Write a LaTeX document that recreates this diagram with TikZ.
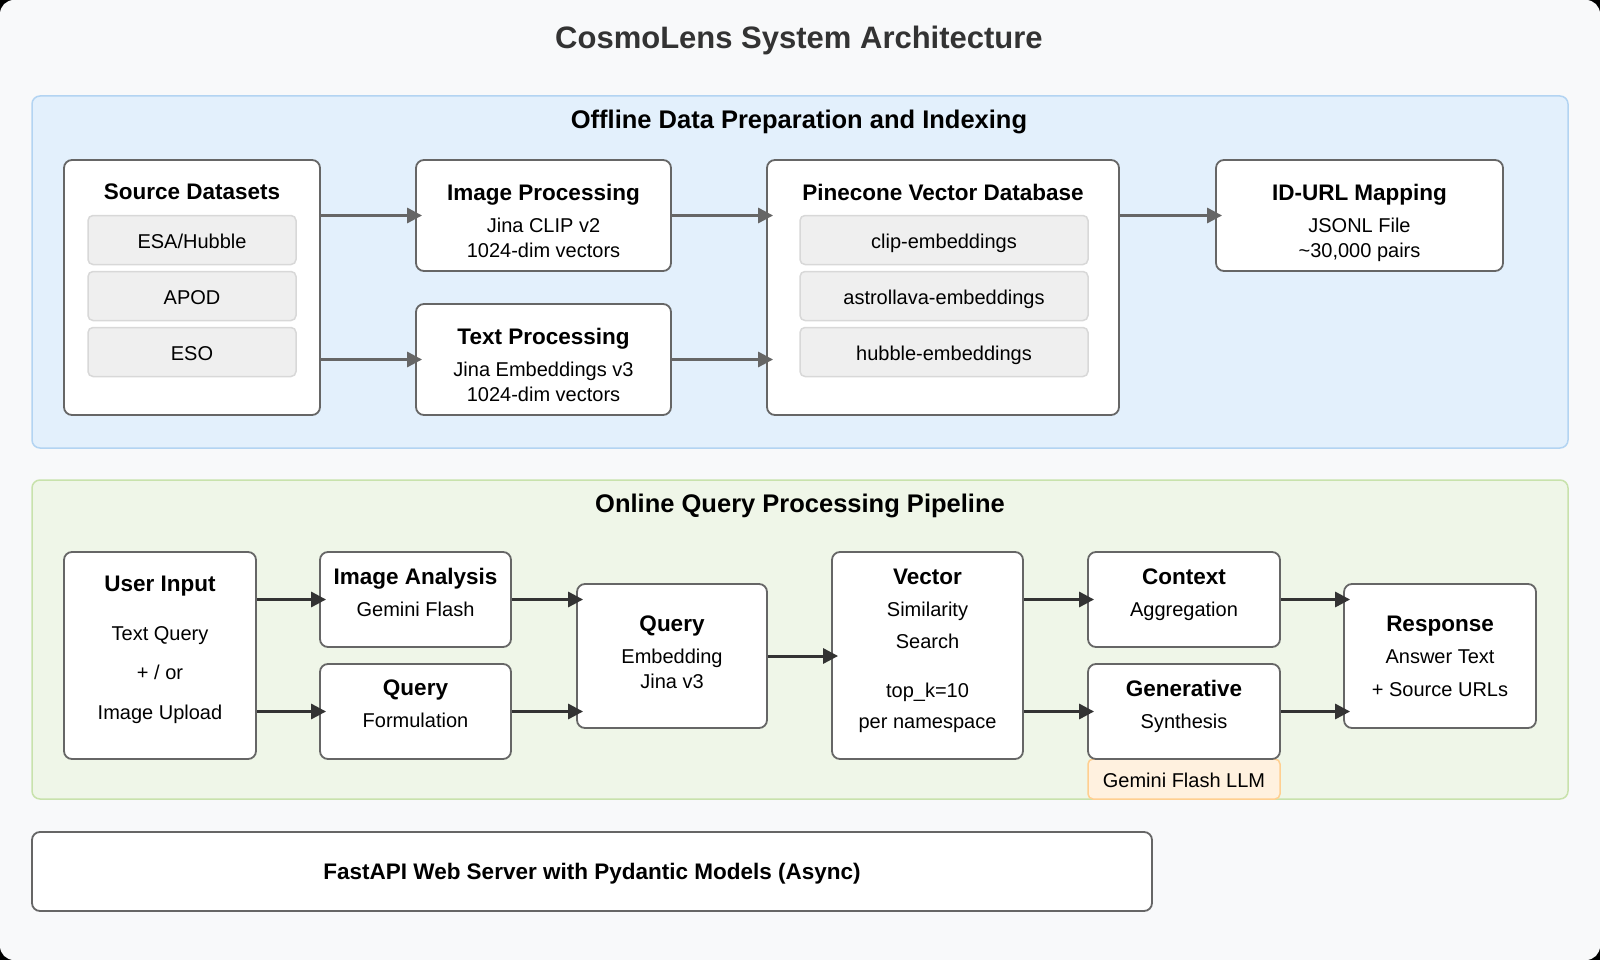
\documentclass[tikz,border=0pt]{standalone}
\usepackage{fontspec}
\setmainfont{Liberation Sans}
\usetikzlibrary{arrows.meta}
\definecolor{pagebg}{HTML}{F8F9FA}
\definecolor{titlegray}{HTML}{333333}
\definecolor{offfill}{HTML}{E3F0FC}
\definecolor{offline}{HTML}{B3D4F2}
\definecolor{onfill}{HTML}{EFF6E8}
\definecolor{online}{HTML}{C8E2AC}
\definecolor{boxline}{HTML}{666666}
\definecolor{chipfill}{HTML}{EFEFEF}
\definecolor{chipline}{HTML}{D8D8D8}
\definecolor{llmfill}{HTML}{FFF1DF}
\definecolor{llmline}{HTML}{FFCF90}
\definecolor{arrowgray}{HTML}{666666}
\definecolor{arrowdark}{HTML}{333333}
\newcommand{\bodyfont}{\fontsize{20}{25}\selectfont}
\newcommand{\boxttlfont}{\bfseries\fontsize{22.5}{27}\selectfont}
\newcommand{\boxttl}[1]{{\boxttlfont #1}}
\tikzset{
  panel/.style={line width=1.5pt, rounded corners=8pt},
  box/.style 2 args={draw=boxline, line width=1.8pt, fill=white, rounded corners=8pt,
    inner sep=0pt, minimum width=#1, minimum height=#2},
  chip/.style 2 args={draw=chipline, line width=1.5pt, fill=chipfill, rounded corners=5pt,
    inner sep=0pt, minimum width=#1, minimum height=#2, font=\bodyfont,
    text height=16pt, text depth=0pt},
  txt/.style={inner sep=0pt, anchor=north, align=center, font=\bodyfont},
  arr/.style={draw=arrowgray, line width=3pt, shorten >=-7pt, -{Triangle[length=15pt,width=15pt]}},
  arrd/.style={arr, draw=arrowdark},
}
\begin{document}
\begin{tikzpicture}[x=1pt,y=-1pt]
\useasboundingbox (0,0) rectangle (1600,960);
\fill[black] (0,0) rectangle (1600,960);
\fill[pagebg, rounded corners=14pt] (0,0) rectangle (1600,960);
\node[txt, font=\bfseries\fontsize{31}{36}\selectfont, text=titlegray] (title) at (799,26) {CosmoLens System Architecture};

% offline part
\draw[panel, fill=offfill, draw=offline] (32,96) rectangle (1568,448);
\node[txt, font=\bfseries\fontsize{25.5}{30}\selectfont] (offT) at (799,110) {Offline Data Preparation and Indexing};
\node[box={256pt}{255pt}] (src) at (192,287.5) {};
\node[txt, font=\boxttlfont] (srcT) at (192,184) {Source Datasets};
\node[chip={208pt}{49pt}] (esa) at (192,240) {ESA/Hubble};
\node[chip={208pt}{49pt}] (apod) at (192,296) {APOD};
\node[chip={208pt}{49pt}] (eso) at (192,352) {ESO};
\node[box={255pt}{111pt}] (imgp) at (543.5,215.5) {};
\node[txt] (imgpT) at (543.5,184) {\boxttl{Image Processing}\\[7pt]Jina CLIP v2\\1024-dim vectors};
\node[box={255pt}{111pt}] (txtp) at (543.5,359.5) {};
\node[txt] (txtpT) at (543.5,328) {\boxttl{Text Processing}\\[7pt]Jina Embeddings v3\\1024-dim vectors};
\node[box={352pt}{255pt}] (pine) at (943,287.5) {};
\node[txt, font=\boxttlfont] (pineT) at (943,184) {Pinecone Vector Database};
\node[chip={288pt}{49pt}] (clip) at (944,240) {clip-embeddings};
\node[chip={288pt}{49pt}] (astro) at (944,296) {astrollava-embeddings};
\node[chip={288pt}{49pt}] (hubble) at (944,352) {hubble-embeddings};
\node[box={287pt}{111pt}] (idurl) at (1359.5,215.5) {};
\node[txt] (idurlT) at (1359.5,184) {\boxttl{ID-URL Mapping}\\[7pt]JSONL File\\\textasciitilde30,000 pairs};
\draw[arr] (src.east |- imgp.west) -- (imgp.west);
\draw[arr] (src.east |- txtp.west) -- (txtp.west);
\draw[arr] (imgp.east) -- (pine.west |- imgp.east);
\draw[arr] (txtp.east) -- (pine.west |- txtp.east);
\draw[arr] (pine.east |- idurl.west) -- (idurl.west);

% online part
\draw[panel, fill=onfill, draw=online] (32,480) rectangle (1568,799);
\node[txt, font=\bfseries\fontsize{25.5}{30}\selectfont] (onT) at (800,494) {Online Query Processing Pipeline};
\node[box={192pt}{207pt}] (user) at (160,655.5) {};
\node[txt] (userT) at (160,576) {\boxttl{User Input}\\[24pt]Text Query\\[14pt]+ / or\\[15pt]Image Upload};
\node[box={191pt}{95pt}] (imga) at (415.5,599.5) {};
\node[txt] (imgaT) at (415.5,568) {\boxttl{Image Analysis}\\[7pt]Gemini Flash};
\node[box={191pt}{95pt}] (qform) at (415.5,711.5) {};
\node[txt] (qformT) at (415.5,680) {\boxttl{Query}\\[7pt]Formulation};
\node[box={190pt}{144pt}] (qemb) at (672,656) {};
\node[txt] (qembT) at (672,616) {\boxttl{Query}\\[7pt]Embedding\\Jina v3};
\node[box={191pt}{207pt}] (vec) at (927.5,655.5) {};
\node[txt] (vecT) at (927.5,569) {\boxttl{Vector}\\[7pt]Similarity\\[7pt]Search\\[24pt]top\_k=10\\[6pt]per namespace};
\node[box={192pt}{95pt}] (ctx) at (1184,599.5) {};
\node[txt] (ctxT) at (1184,569) {\boxttl{Context}\\[7pt]Aggregation};
\node[draw=llmline, line width=1.5pt, fill=llmfill, rounded corners=5pt, inner sep=0pt,
  minimum width=192pt, minimum height=40pt, font=\bodyfont, text height=16pt, text depth=0pt] (llm) at (1184,779) {Gemini Flash LLM};
\node[box={192pt}{95pt}] (gen) at (1184,711.5) {};
\node[txt] (genT) at (1184,680) {\boxttl{Generative}\\[7pt]Synthesis};
\node[box={192pt}{144pt}] (resp) at (1440,656) {};
\node[txt] (respT) at (1440,616) {\boxttl{Response}\\[7pt]Answer Text\\[8pt]+ Source URLs};
\draw[arrd] (user.east |- imga.west) -- (imga.west);
\draw[arrd] (user.east |- qform.west) -- (qform.west);
\draw[arrd] (imga.east) -- (qemb.west |- imga.east);
\draw[arrd] (qform.east) -- (qemb.west |- qform.east);
\draw[arrd] (qemb.east) -- (vec.west |- qemb.east);
\draw[arrd] (vec.east |- ctx.west) -- (ctx.west);
\draw[arrd] (vec.east |- gen.west) -- (gen.west);
\draw[arrd] (ctx.east) -- (resp.west |- ctx.east);
\draw[arrd] (gen.east) -- (resp.west |- gen.east);

% server
\node[box={1120pt}{79pt}, font=\boxttlfont, text height=16pt, text depth=0pt] (api) at (592,871.5) {FastAPI Web Server with Pydantic Models (Async)};
\end{tikzpicture}
\end{document}
